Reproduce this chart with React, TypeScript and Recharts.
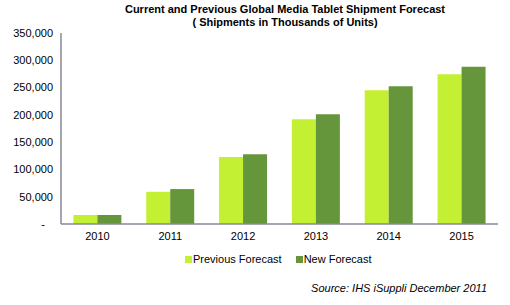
import React from 'react';
import { BarChart, Bar, XAxis, YAxis } from 'recharts';

const years = ['2010', '2011', '2012', '2013', '2014', '2015'];
const previousForecast = [16500, 59000, 123000, 192000, 245000, 274500];
const newForecast = [16500, 64000, 128000, 201000, 252500, 288000];
const yTicks = [0, 50000, 100000, 150000, 200000, 250000, 300000, 350000];

const data = years.map((year, i) => ({
  year,
  previous: previousForecast[i],
  next: newForecast[i],
}));

const FONT = 'Arial, "Liberation Sans", sans-serif';
const LIME = '#c3f032';
const GREEN = '#66963c';
const FRAME = '#868a94';

const YTick = (props: any) => {
  const { x, y, payload } = props;
  const isZero = payload.value === 0;
  return (
    <text
      x={isZero ? x - 8 : x}
      y={y}
      dy="0.35em"
      textAnchor="end"
      fontSize={11}
      fontFamily={FONT}
      fill="#000"
    >
      {isZero ? '-' : payload.value.toLocaleString('en-US')}
    </text>
  );
};

const App: React.FC = () => {
  return (
    <div style={{ position: 'absolute', left: 0, top: 0, width: 510, height: 305, background: '#fff', fontFamily: FONT }}>
      <div
        style={{
          position: 'absolute',
          left: 0,
          width: 570,
          top: 3,
          textAlign: 'center',
          fontSize: 11,
          fontWeight: 'bold',
          lineHeight: '13px',
          color: '#000',
        }}
      >
        Current and Previous Global Media Tablet Shipment Forecast
        <br />( Shipments in Thousands of Units)
      </div>

      <BarChart
        width={510}
        height={305}
        data={data}
        margin={{ top: 33, right: 12, left: 0, bottom: 51 }}
        barCategoryGap="17%"
        barGap={0}
      >
        <XAxis
          dataKey="year"
          axisLine={{ stroke: FRAME, strokeWidth: 1.5 }}
          tickLine={false}
          height={30}
          tick={{ fontSize: 11, fontFamily: FONT, fill: '#000' }}
        />
        <XAxis
          xAxisId="top"
          dataKey="year"
          orientation="top"
          height={0}
          tick={false}
          tickLine={false}
          axisLine={{ stroke: FRAME, strokeWidth: 1.5 }}
        />
        <YAxis
          domain={[0, 350000]}
          ticks={yTicks}
          width={61}
          axisLine={{ stroke: FRAME, strokeWidth: 1.5 }}
          tickLine={false}
          tick={<YTick />}
        />
        <YAxis
          yAxisId="right"
          orientation="right"
          domain={[0, 350000]}
          width={0}
          tick={false}
          tickLine={false}
          axisLine={{ stroke: FRAME, strokeWidth: 1.5 }}
        />
        <Bar dataKey="previous" name="Previous Forecast" fill={LIME} isAnimationActive={false} />
        <Bar dataKey="next" name="New Forecast" fill={GREEN} isAnimationActive={false} />
      </BarChart>

      <div style={{ position: 'absolute', left: 185, top: 253, fontSize: 11, color: '#000', display: 'flex', alignItems: 'center' }}>
        <span style={{ display: 'inline-block', width: 7, height: 7, background: LIME, marginRight: 1 }} />
        <span style={{ marginRight: 14 }}>Previous Forecast</span>
        <span style={{ display: 'inline-block', width: 7, height: 7, background: GREEN, marginRight: 1 }} />
        <span>New Forecast</span>
      </div>

      <div style={{ position: 'absolute', right: 23, top: 282, fontSize: 11, fontStyle: 'italic', color: '#000' }}>
        Source: IHS iSuppli December 2011
      </div>
    </div>
  );
};

export default App;
